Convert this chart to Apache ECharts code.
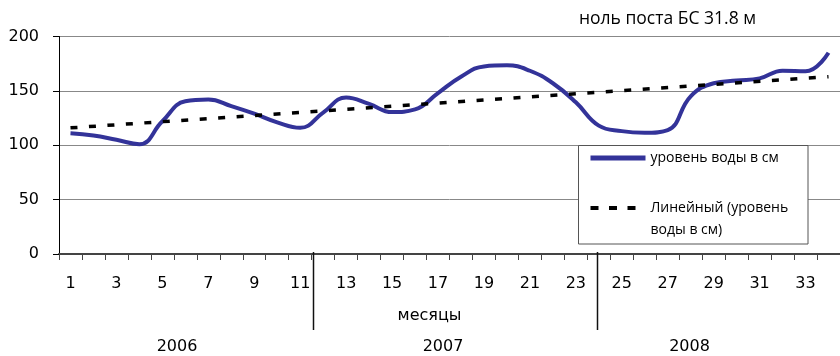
<!DOCTYPE html>
<html><head><meta charset="utf-8">
<script src="https://cdn.jsdelivr.net/npm/echarts@6/dist/echarts.min.js"></script>
<style>html,body{margin:0;padding:0;background:#fff}#c{width:840px;height:356px}</style>
</head><body><div id="c"></div>
<script>
// ---- data ----
const months = ['1','2','3','4','5','6','7','8','9','10','11','12','13','14','15','16','17',
  '18','19','20','21','22','23','24','25','26','27','28','29','30','31','32','33','34'];
const levels = [111,109,105,101,122,140.5,142,136,129,121,116,130,144,138,130.5,133,148,
  163,172.5,173.5,168.5,157,139.5,118,113,111.5,114,145,157,159.5,161.5,168.5,168,185];
const trendEnds = [116, 163];
const years = ['2006','2007','2008'];
const seriesNames = ['уровень воды в см', 'Линейный (уровень\nводы в см)'];
const titleText = 'ноль поста БС 31.8 м';
const xName = 'месяцы';

// ---- layout ----
const G = {left: 59, top: 36.5, width: 785.4, height: 217.5};
const catW = G.width / months.length;
const sepPos = [11, 23.28];          // in category units from axis start
const yearX = [177, 443, 689.5];

const trend = months.map((_, i) => i === 0 ? trendEnds[0] : (i === months.length - 1 ? trendEnds[1] : null));

const chart = echarts.init(document.getElementById('c'), null, {renderer: 'canvas'});
const axisFont = 'DejaVu Sans';
const graphics = [];
graphics.push({type: 'rect', z: 3, shape: {x: 578.5, y: 145.5, width: 229.5, height: 98.5},
  style: {fill: '#fff', stroke: '#555', lineWidth: 1}});
sepPos.forEach(p => {
  const x = Math.round(G.left + p * catW) + 0.5;
  graphics.push({type: 'line', z: 5, shape: {x1: x, y1: 252, x2: x, y2: 330},
    style: {stroke: '#111', lineWidth: 1.5}});
});
years.forEach((y, i) => graphics.push({type: 'text', x: yearX[i], y: 347,
  style: {text: y, font: '16px "DejaVu Sans"', fill: '#000', align: 'center', verticalAlign: 'middle'}}));

chart.setOption({
  animation: false,
  backgroundColor: '#fff',
  title: {text: titleText, left: 579, top: 10, padding: 0,
    textStyle: {fontFamily: 'Open Sans', fontSize: 17.5, fontWeight: 'normal', color: '#000'}},
  grid: {left: G.left, top: G.top, width: G.width, height: G.height, containLabel: false},
  legend: {orient: 'vertical', left: 588, top: 147, padding: 0, itemGap: 6,
    itemWidth: 55, itemHeight: 14, z: 6,
    itemStyle: {opacity: 0},
    textStyle: {fontFamily: 'Open Sans', fontSize: 14, lineHeight: 22, color: '#000'},
    formatter: n => n === seriesNames[1] ? '\n' + n : n,
    data: [
      {name: seriesNames[0], lineStyle: {width: 5, color: '#333399'}},
      {name: seriesNames[1], lineStyle: {width: 4, color: '#000', type: [8, 10.5]}}
    ]},
  xAxis: {type: 'category', data: months, boundaryGap: true,
    name: xName, nameLocation: 'middle', nameGap: 54,
    nameTextStyle: {fontFamily: axisFont, fontSize: 16, color: '#000', padding: [0, 40, 0, 0]},
    axisLine: {lineStyle: {color: '#444', width: 2}},
    axisTick: {show: true, interval: 0, length: 6, lineStyle: {color: '#444'}},
    axisLabel: {interval: 1, margin: 22, hideOverlap: false,
      fontFamily: axisFont, fontSize: 16, color: '#000'},
    splitLine: {show: false}},
  yAxis: {type: 'value', min: 0, max: 200, interval: 50,
    axisLine: {show: true, lineStyle: {color: '#000', width: 1}},
    axisTick: {show: true, length: 6, lineStyle: {color: '#000'}},
    axisLabel: {margin: 20, fontFamily: axisFont, fontSize: 16, color: '#000'},
    splitLine: {lineStyle: {color: '#888', width: 1}}},
  series: [
    {name: seriesNames[0], type: 'line', data: levels, smooth: 0.45, symbol: 'none',
      lineStyle: {color: '#333399', width: 4}, itemStyle: {color: '#333399'}, z: 2},
    {name: seriesNames[1], type: 'line', data: trend, connectNulls: true, symbol: 'none',
      lineStyle: {color: '#000', width: 3.5, type: [7, 11.5]}, itemStyle: {color: '#000'}, z: 2}
  ],
  graphic: graphics
});
</script>
</body></html>
